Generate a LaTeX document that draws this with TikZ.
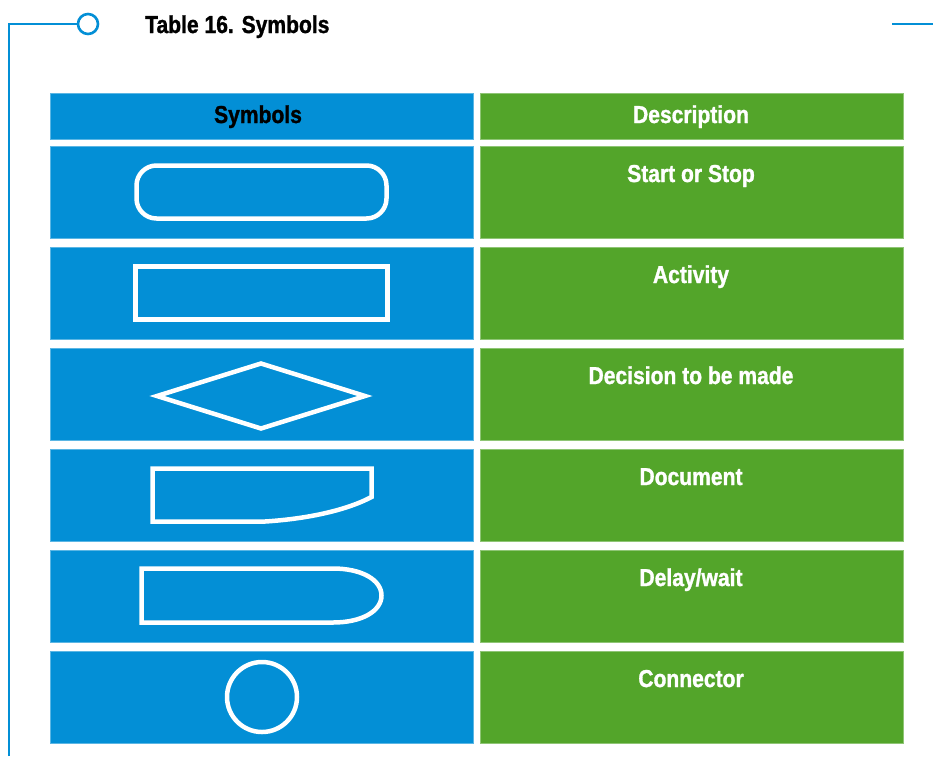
\documentclass[tikz,border=0pt]{standalone}
\usepackage{fontspec}
\setmainfont{Liberation Sans}
\newfontfamily\condfont[FakeStretch=0.86, FakeBold=1.2]{Liberation Sans}
\definecolor{tblue}{HTML}{038FD6}
\definecolor{tgreen}{HTML}{53A52A}
\begin{document}
\begin{tikzpicture}[x=1pt,y=-1pt,
  cell/.style={minimum width=423pt, minimum height=92pt, inner sep=0pt, outer sep=0pt, anchor=north west},
  bcell/.style={cell, fill=tblue, draw=tblue!65!white, line width=0.6pt},
  gcell/.style={cell, fill=tgreen, draw=tgreen!65!white, line width=0.6pt},
  hdr/.style={minimum height=46pt},
  lbl/.style={font=\condfont\bfseries\fontsize{24.5}{28}\selectfont, text=white, anchor=base, inner sep=0pt},
  sym/.style={draw=white, line width=4.5pt},
  frame/.style={draw=tblue, line width=2.6pt}]
\useasboundingbox (0,0) rectangle (933,756);

% frame
\coordinate (fb) at (9,756);
\coordinate (fc) at (9,24);
\node[circle, draw=tblue, line width=2.6pt, fill=white, minimum size=20pt, inner sep=0pt] (ring) at (88,24) {};
\draw[frame] (fb) -- (fc) -- (ring.west);
\coordinate (rl) at (892,24);
\coordinate (rr) at (933,24);
\draw[frame] (rl) -- (rr);

% title
\node[lbl, text=black, anchor=base west] (title) at (145,33) {Table 16. Symbols};

% header
\node[bcell,hdr] (hs) at (50,93) {};
\node[gcell,hdr] (hd) at (480,93) {};
\node[lbl, text=black] (ths) at (258,123) {Symbols};
\node[lbl] (thd) at (691,123) {Description};

% rows
\foreach \k in {0,...,5}{
  \node[bcell] (s\k) at (50,146+101*\k) {};
  \node[gcell] (d\k) at (480,146+101*\k) {};
}
\node[lbl] (t0) at (691,182) {Start or Stop};
\node[lbl] (t1) at (691,283) {Activity};
\node[lbl] (t2) at (691,384) {Decision to be made};
\node[lbl] (t3) at (691,485) {Document};
\node[lbl] (t4) at (691,586) {Delay/wait};
\node[lbl] (t5) at (691,687) {Connector};

% symbols
\draw[sym, rounded corners=20pt] (136.5,165.5) rectangle (386.5,218.5);
\draw[sym] (135.5,266.5) rectangle (387.5,319.5);
\draw[sym, line join=miter] (157,396) -- (261,363.5) -- (365,396) -- (261,428.5) -- cycle;
\draw[sym] (152.5,468.5) -- (371.5,468.5) -- (371.5,497)
  .. controls (345,511) and (305,519) .. (265,521.5) -- (152.5,521.5) -- cycle;
\draw[sym] (141.5,568.5) -- (333,568.5)
  .. controls (362,568.5) and (381.5,580) .. (381.5,595.5)
  .. controls (381.5,611) and (362,622.5) .. (333,622.5) -- (141.5,622.5) -- cycle;
\draw[sym] (262,697) circle[radius=35];
\end{tikzpicture}
\end{document}
